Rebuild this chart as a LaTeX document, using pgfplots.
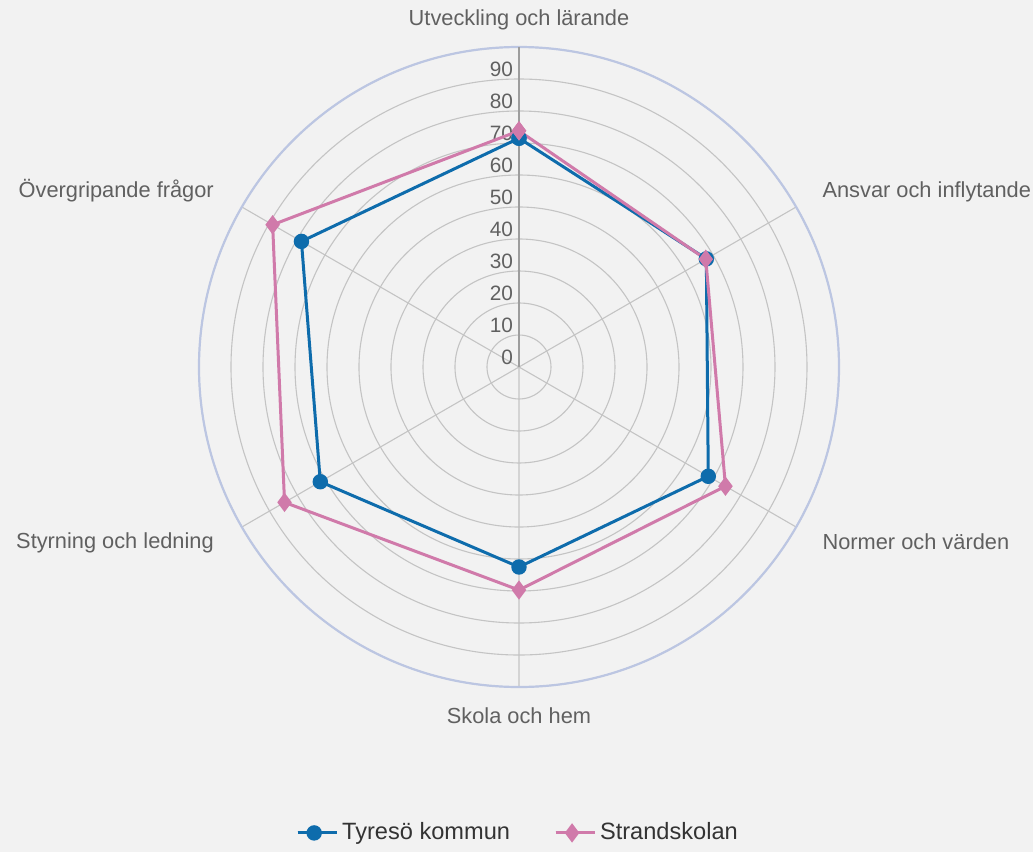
\documentclass[border=0pt]{standalone}
\usepackage{pgfplots}
\pgfplotsset{compat=1.18}
\usepgfplotslibrary{polar}
\usepackage{fontspec}
\setmainfont{Liberation Sans}
\definecolor{bg}{RGB}{242,242,242}
\definecolor{cblue}{RGB}{14,108,172}
\definecolor{cpink}{RGB}{208,122,170}
\definecolor{gridc}{RGB}{196,196,196}
\definecolor{outerc}{RGB}{188,198,226}
\definecolor{lblc}{RGB}{96,96,96}
\definecolor{legc}{RGB}{51,51,51}
\begin{document}
\begin{tikzpicture}
\useasboundingbox (0,0) rectangle (516.5pt,426pt);
\fill[bg] (0,0) rectangle (516.5pt,426pt);
\begin{polaraxis}[
  at={(259.5pt,242.5pt)}, anchor=origin,
  scale only axis, width=320pt, height=320pt,
  xmin=90, xmax=450, ymin=0, ymax=100,
  xtick={90,150,210,270,330,390}, xticklabels={},
  ytick={0,10,...,100},
  yticklabels={0,10,20,30,40,50,60,70,80,90,{}},
  grid=major,
  major grid style={gridc, line width=0.55pt},
  x axis line style={outerc, line width=1.1pt},
  y axis line style={gridc!80!black, line width=0.55pt},
  major tick length=0pt,
  yticklabel style={font=\fontsize{10.4}{12}\selectfont, text=lblc, anchor=east, yshift=5pt, xshift=0.5pt},
  clip=false,
  legend columns=2,
  legend style={at={(0.5,-0.228)}, anchor=center, draw=none, fill=none,
    font=\fontsize{11.8}{13}\selectfont, text=legc,
    /tikz/every even column/.append style={column sep=20pt}},
  legend image code/.code={\draw[mark repeat=2,mark phase=2] plot coordinates {(0pt,0pt) (8.25pt,0pt) (16.5pt,0pt)};
    \path (0pt,0pt) -- (19.5pt,0pt);},
]
\addplot[cblue, line width=1.5pt, mark=*, mark size=3.1pt, mark options={solid}]
  coordinates {(90,71.5) (150,78.5) (210,71.7) (270,62.5) (330,68.3) (390,67.6) (450,71.5)};
\addlegendentry{Tyresö kommun}
\addplot[cpink, line width=1.5pt, mark=diamond*, mark size=3.6pt, mark options={solid}]
  coordinates {(90,73.8) (150,88.9) (210,84.6) (270,69.7) (330,74.5) (390,67.4) (450,73.8)};
\addlegendentry{Strandskolan}
\begin{scope}[every node/.style={text=lblc, inner sep=0pt, font=\fontsize{10.9}{13}\selectfont}]
\node[anchor=center] at (axis cs:90,108.6) {Utveckling och lärande};
\node[anchor=west] at (axis cs:390,109.4) {Ansvar och inflytande};
\node[anchor=west] at (axis cs:330,109.4) {Normer och värden};
\node[anchor=center] at (axis cs:270,109) {Skola och hem};
\node[anchor=east] at (axis cs:210,110) {Styrning och ledning};
\node[anchor=east] at (axis cs:150,110) {Övergripande frågor};
\end{scope}
\end{polaraxis}
\end{tikzpicture}
\end{document}
